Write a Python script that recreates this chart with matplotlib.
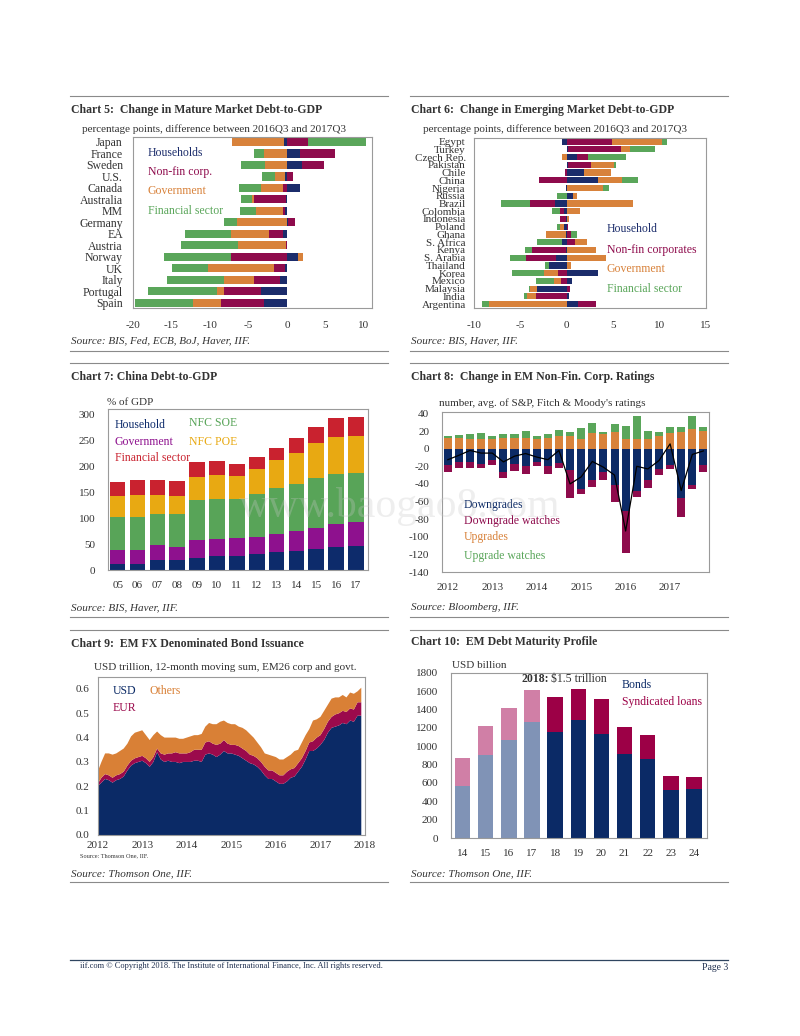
import numpy as np
import matplotlib.pyplot as plt

plt.rcParams['font.family'] = ['Liberation Serif', 'DejaVu Serif']
plt.rcParams['axes.unicode_minus'] = False

W, H = 800, 1036
TXT = '#333333'

# ---- Chart 5: mature markets, change in debt-to-GDP (pp) ----
mm_names = ['Japan', 'France', 'Sweden', 'U.S.', 'Canada', 'Australia', 'MM', 'Germany',
            'EA', 'Austria', 'Norway', 'UK', 'Italy', 'Portugal', 'Spain']
mm_household = [-0.35, 1.7, 2.0, -0.3, 1.7, -0.15, -0.3, 0.2, -0.5, 0.0, 1.4, -0.3, -0.9, -3.4, -3.0]
mm_nonfin = [2.7, 4.6, 2.75, 0.8, -0.5, -4.1, -0.2, 0.8, -1.8, -0.1, -7.3, -1.4, -3.4, -4.7, -5.5]
mm_govt = [-6.8, -3.0, -2.9, -1.2, -2.8, -0.3, -3.5, -6.5, -5.0, -6.2, 0.65, -8.5, -3.9, -1.0, -3.7]
mm_fin = [7.5, -1.3, -3.1, -1.7, -2.9, -1.4, -2.1, -1.6, -5.9, -7.5, -8.7, -4.7, -7.3, -8.9, -7.5]

# ---- Chart 6: emerging markets ----
em_names = ['Egypt', 'Turkey', 'Czech Rep.', 'Pakistan', 'Chile', 'China', 'Nigeria', 'Russia',
            'Brazil', 'Colombia', 'Indonesia', 'Poland', 'Ghana', 'S. Africa', 'Kenya',
            'S. Arabia', 'Thailand', 'Korea', 'Mexico', 'Malaysia', 'India', 'Argentina']
em_household = [-0.5, 0.1, 1.1, 0.1, 1.8, 3.4, -0.1, 0.65, -1.3, -0.3, -0.1, -0.25, -0.1, -0.55,
                -0.1, -1.2, -1.9, 3.4, 0.55, -3.2, 0.2, 1.2]
em_nonfin = [4.85, 5.7, 1.2, 2.55, -0.2, -3.0, 0.0, 0.0, -2.7, -0.45, -0.6, 0.15, 0.5, 0.85,
             -3.6, -3.2, -0.05, -1.0, -0.6, 0.35, -3.3, 2.0]
em_govt = [5.4, 1.0, -0.5, 2.4, 3.0, 2.5, 3.9, 0.45, 7.1, 1.4, 0.2, -0.5, -2.1, 1.3, 3.1, 4.2,
           0.45, -1.45, -0.8, -0.8, -0.95, -8.4]
em_fin = [0.55, 2.7, 4.1, 0.3, 0.0, 1.75, 0.6, -1.1, -3.1, -0.8, 0.0, -0.3, 0.65, -2.7, -0.8,
          -1.7, -0.45, -3.5, -1.9, -0.1, -0.4, -0.75]

# ---- Chart 7: China debt-to-GDP, % of GDP ----
cn_years = ['05', '06', '07', '08', '09', '10', '11', '12', '13', '14', '15', '16', '17']
cn_household = [11, 11, 19, 19, 24, 27, 27, 30, 34, 36, 40, 45, 47]
cn_govt = [27, 27, 30, 26, 34, 33, 34, 34, 36, 40, 41, 44, 46]
cn_soe = [64, 65, 59, 63, 77, 77, 76, 83, 87, 90, 97, 95, 94]
cn_poe = [41, 41, 37, 34, 44, 45, 44, 48, 54, 60, 66, 72, 71]
cn_fin = [27, 29, 29, 30, 28, 27, 24, 23, 24, 28, 32, 37, 37]

# ---- Chart 8: EM non-fin corp ratings, quarterly 2012Q1-2017Q4 ----
rt_years = ['2012', '2013', '2014', '2015', '2016', '2017']
rt_upgrades = [12, 12, 11, 11, 10.5, 12, 12, 12.5, 10.5, 12, 14, 14.5, 11, 18, 16.5, 19,
               10.5, 11.5, 10.5, 14.5, 18, 18.5, 22, 20]
rt_upg_watch = [2.5, 4, 5.5, 7, 4, 5, 5, 8, 3.5, 5, 7, 4, 12, 11, 3, 9, 15.5, 26, 10, 4.5,
                7, 6, 15, 5]
rt_downgrades = [-19, -15, -15, -17, -12.5, -27, -17, -20, -15, -20, -16.5, -24.5, -45.5, -35,
                 -27, -41, -71, -47.5, -35, -23, -18, -55.5, -41.5, -18]
rt_dng_watch = [-7.5, -6.5, -6.5, -4.5, -5.5, -6, -8, -8.5, -5, -8.5, -5.5, -31, -5.5, -8.5,
                -8, -19, -47, -7, -10, -6.5, -5, -22.5, -4.5, -9]
rt_net = [-12.5, -7.5, -2, -5, -5, -15, -8.5, -5.5, -9.5, -12.5, -2, -40, -32, -14.5, -21, -30,
          -93.5, -20, -23, -13.5, 5.5, -47.5, -6.5, -2.5]

# ---- Chart 9: EM FX bond issuance, USD trn, monthly Jan 2012 - Dec 2017 ----
fx_usd = [0.20, 0.215, 0.23, 0.225, 0.215, 0.225, 0.23, 0.24, 0.265, 0.285, 0.295, 0.30,
          0.305, 0.295, 0.28, 0.30, 0.34, 0.31, 0.30, 0.305, 0.30, 0.30, 0.295, 0.30,
          0.30, 0.30, 0.305, 0.305, 0.30, 0.33, 0.335, 0.33, 0.32, 0.33, 0.345, 0.335,
          0.335, 0.33, 0.325, 0.315, 0.305, 0.295, 0.29, 0.28, 0.265, 0.245, 0.23, 0.23,
          0.22, 0.21, 0.21, 0.22, 0.235, 0.24, 0.26, 0.28, 0.31, 0.345, 0.345, 0.355,
          0.37, 0.39, 0.42, 0.44, 0.445, 0.45, 0.46, 0.455, 0.47, 0.465, 0.49, 0.49]
fx_eur = [0.01, 0.02, 0.02, 0.02, 0.02, 0.02, 0.02, 0.02, 0.02, 0.02, 0.02, 0.02,
          0.02, 0.02, 0.02, 0.02, 0.015, 0.025, 0.03, 0.03, 0.035, 0.04, 0.04, 0.035,
          0.035, 0.04, 0.045, 0.045, 0.05, 0.05, 0.05, 0.045, 0.05, 0.045, 0.045, 0.04,
          0.035, 0.04, 0.04, 0.04, 0.04, 0.035, 0.035, 0.035, 0.035, 0.035, 0.035, 0.035,
          0.035, 0.035, 0.035, 0.04, 0.035, 0.035, 0.035, 0.035, 0.035, 0.035, 0.04, 0.045,
          0.04, 0.045, 0.045, 0.045, 0.05, 0.05, 0.05, 0.05, 0.05, 0.05, 0.055, 0.055]
fx_oth = [0.05, 0.065, 0.085, 0.09, 0.095, 0.09, 0.095, 0.095, 0.09, 0.10, 0.105, 0.105,
          0.105, 0.095, 0.09, 0.09, 0.07, 0.075, 0.07, 0.065, 0.065, 0.06, 0.06, 0.06,
          0.065, 0.065, 0.06, 0.06, 0.065, 0.065, 0.075, 0.08, 0.085, 0.09, 0.08, 0.085,
          0.085, 0.085, 0.08, 0.085, 0.085, 0.085, 0.075, 0.065, 0.06, 0.055, 0.065, 0.06,
          0.065, 0.065, 0.065, 0.06, 0.06, 0.07, 0.055, 0.065, 0.065, 0.055, 0.085, 0.075,
          0.075, 0.075, 0.07, 0.075, 0.07, 0.065, 0.065, 0.06, 0.065, 0.065, 0.045, 0.06]

# ---- Chart 10: EM debt maturity profile, USD bn ----
mat_years = ['14', '15', '16', '17', '18', '19', '20', '21', '22', '23', '24']
mat_bonds = [569, 899, 1065, 1264, 1149, 1290, 1134, 920, 862, 522, 533]
mat_loans = [301, 322, 348, 348, 387, 333, 377, 287, 265, 156, 134]

NAVY = '#1b2c6b'
MAROON = '#8e0b4c'
ORANGE = '#d8823b'
GREEN = '#5aa65a'

fig = plt.figure(figsize=(W / 100, H / 100), dpi=100)


def page_axes(l, t, r, b):
    ax = fig.add_axes([l / W, 1 - b / H, (r - l) / W, (b - t) / H])
    for s in ax.spines.values():
        s.set_color('#9a9a9a')
        s.set_linewidth(0.8)
    ax.tick_params(length=0, labelsize=8, colors=TXT)
    return ax


def ptext(x, y, s, **kw):
    kw.setdefault('va', 'center')
    kw.setdefault('color', TXT)
    fig.text(x / W, 1 - y / H, s, **kw)


def hrule(x0, x1, y, color='#8a8a8a', lw=0.8):
    fig.add_artist(plt.Line2D([x0 / W, x1 / W], [1 - y / H, 1 - y / H], color=color, lw=lw))


def diverging_barh(ax, series, colors, height):
    n = len(series[0])
    y = np.arange(n)
    pos = np.zeros(n)
    neg = np.zeros(n)
    for vals, c in zip(series, colors):
        vals = np.asarray(vals, dtype=float)
        left = np.where(vals >= 0, pos, neg)
        ax.barh(y, vals, left=left, height=height, color=c, linewidth=0)
        pos += np.clip(vals, 0, None)
        neg += np.clip(vals, None, 0)


# section rules
for y in [96, 351, 363, 617, 630, 882]:
    hrule(70, 388, y)
    hrule(410, 728, y)

# ---------------- Chart 5 ----------------
ptext(71, 110, 'Chart 5:  Change in Mature Market Debt-to-GDP', fontsize=8.5, fontweight='bold')
ptext(82, 129, 'percentage points, difference between 2016Q3 and 2017Q3', fontsize=8)
ax = page_axes(132.7, 136.7, 371.7, 308)
diverging_barh(ax, [mm_household, mm_nonfin, mm_govt, mm_fin], [NAVY, MAROON, ORANGE, GREEN], 0.72)
ax.set_xlim(-20, 11)
ax.set_ylim(14.45, -0.45)
ax.set_xticks(range(-20, 11, 5))
ax.set_yticks(range(len(mm_names)))
ax.set_yticklabels(mm_names, fontsize=8.5)
ax.tick_params(axis='y', pad=7)
ax.tick_params(axis='x', pad=9)
for lab, c, yf in [('Households', NAVY, 0.905), ('Non-fin corp.', MAROON, 0.794),
                   ('Government', ORANGE, 0.683), ('Financial sector', GREEN, 0.566)]:
    ax.text(0.064, yf, lab, transform=ax.transAxes, color=c, fontsize=8.5, va='center')
ptext(71, 341, 'Source: BIS, Fed, ECB, BoJ, Haver, IIF.', fontsize=8, style='italic')

# ---------------- Chart 6 ----------------
ptext(411, 110, 'Chart 6:  Change in Emerging Market Debt-to-GDP', fontsize=8.5, fontweight='bold')
ptext(423, 129, 'percentage points, difference between 2016Q3 and 2017Q3', fontsize=8)
ax = page_axes(474, 137.7, 706, 308)
diverging_barh(ax, [em_household, em_nonfin, em_govt, em_fin], [NAVY, MAROON, ORANGE, GREEN], 0.8)
ax.set_xlim(-10, 15)
ax.set_ylim(21.5, -0.5)
ax.set_xticks(range(-10, 16, 5))
ax.set_yticks(range(len(em_names)))
ax.set_yticklabels(em_names, fontsize=8)
ax.tick_params(axis='y', pad=6)
ax.tick_params(axis='x', pad=9)
for lab, c, yf in [('Household', NAVY, 0.464), ('Non-fin corporates', MAROON, 0.341),
                   ('Government', ORANGE, 0.229), ('Financial sector', GREEN, 0.112)]:
    ax.text(0.573, yf, lab, transform=ax.transAxes, color=c, fontsize=8.5, va='center')
ptext(411, 341, 'Source: BIS, Haver, IIF.', fontsize=8, style='italic')

# ---------------- Chart 7 ----------------
ptext(71, 377, 'Chart 7: China Debt-to-GDP', fontsize=8.5, fontweight='bold')
ptext(107, 403, '% of GDP', fontsize=8)
ax = page_axes(107.7, 409, 368, 570)
x = np.arange(len(cn_years))
bottom = np.zeros(len(x))
cn_colors = ['#0d2b6b', '#8e118e', '#58a458', '#e8a912', '#c9222f']
for vals, c in zip([cn_household, cn_govt, cn_soe, cn_poe, cn_fin], cn_colors):
    ax.bar(x, vals, bottom=bottom, width=0.79, color=c, linewidth=0)
    bottom += np.asarray(vals)
ax.set_xlim(-0.5, 12.6)
ax.set_ylim(0, 310)
ax.set_yticks(range(0, 301, 50))
ax.set_xticks(x)
ax.set_xticklabels(cn_years)
ax.tick_params(axis='y', pad=9)
ax.tick_params(axis='x', pad=8)
for lab, c, xf, yf in [('Household', cn_colors[0], 0.028, 0.90), ('Government', cn_colors[1], 0.028, 0.795),
                       ('Financial sector', cn_colors[4], 0.028, 0.696), ('NFC SOE', cn_colors[2], 0.312, 0.913),
                       ('NFC POE', cn_colors[3], 0.312, 0.795)]:
    ax.text(xf, yf, lab, transform=ax.transAxes, color=c, fontsize=8.5, va='center')
ptext(71, 608, 'Source: BIS, Haver, IIF.', fontsize=8, style='italic')

# ---------------- Chart 8 ----------------
ptext(411, 377, 'Chart 8:  Change in EM Non-Fin. Corp. Ratings', fontsize=8.5, fontweight='bold')
ptext(439, 403, "number, avg. of S&P, Fitch & Moody's ratings", fontsize=8)
ax = page_axes(441.7, 411.7, 709, 572)
q = np.arange(len(rt_upgrades))
ax.bar(q, rt_upgrades, width=0.72, color=ORANGE, linewidth=0)
ax.bar(q, rt_upg_watch, bottom=rt_upgrades, width=0.72, color=GREEN, linewidth=0)
ax.bar(q, rt_downgrades, width=0.72, color='#0c2a66', linewidth=0)
ax.bar(q, rt_dng_watch, bottom=rt_downgrades, width=0.72, color=MAROON, linewidth=0)
ax.plot(q, rt_net, color='black', lw=0.9)
ax.set_xlim(-0.55, 23.5)
ax.set_ylim(-140, 42)
ax.set_yticks(range(-140, 41, 20))
ax.set_xticks(q[::4])
ax.set_xticklabels(rt_years)
ax.tick_params(axis='y', pad=9)
ax.tick_params(axis='x', pad=8)
for lab, c, yf in [('Downgrades', '#0c2a66', 0.418), ('Downgrade watches', MAROON, 0.318),
                   ('Upgrades', ORANGE, 0.218), ('Upgrade watches', GREEN, 0.10)]:
    ax.text(0.083, yf, lab, transform=ax.transAxes, color=c, fontsize=8.5, va='center')
ptext(411, 607, 'Source: Bloomberg, IIF.', fontsize=8, style='italic')

# ---------------- Chart 9 ----------------
ptext(71, 644, 'Chart 9:  EM FX Denominated Bond Issuance', fontsize=8.5, fontweight='bold')
ptext(94, 668, 'USD trillion, 12-month moving sum, EM26 corp and govt.', fontsize=8)
ax = page_axes(97.7, 676.7, 365, 835)
t = 2012 + np.arange(len(fx_usd)) / 12
ax.stackplot(t, fx_usd, fx_eur, fx_oth, colors=['#0b2a66', '#9b0a4c', '#d98036'], linewidth=0)
ax.set_xlim(2012, 2018)
ax.set_ylim(0, 0.65)
ax.set_yticks(np.arange(0, 0.61, 0.1))
ax.set_yticklabels([f'{v:.1f}' for v in np.arange(0, 0.61, 0.1)])
ax.set_xticks(range(2012, 2019))
ax.tick_params(axis='y', pad=6)
ax.tick_params(axis='x', pad=4)
ax.text(0.057, 0.91, 'USD', transform=ax.transAxes, color='#0b2a66', fontsize=8.5, va='center')
ax.text(0.192, 0.91, 'Others', transform=ax.transAxes, color='#d98036', fontsize=8.5, va='center')
ax.text(0.057, 0.80, 'EUR', transform=ax.transAxes, color='#9b0a4c', fontsize=8.5, va='center')
ptext(80, 856, 'Source: Thomson One, IIF.', fontsize=4.5)
ptext(71, 874, 'Source: Thomson One, IIF.', fontsize=8, style='italic')

# ---------------- Chart 10 ----------------
ptext(411, 642, 'Chart 10:  EM Debt Maturity Profile', fontsize=8.5, fontweight='bold')
ptext(452, 665, 'USD billion', fontsize=8)
ax = page_axes(451, 672.7, 706.7, 838)
xm = np.arange(len(mat_years))
hist = xm < 4
bond_c = np.where(hist, '#8093b6', '#0b2a66')
loan_c = np.where(hist, '#d07fa6', '#9c0046')
ax.bar(xm, mat_bonds, width=0.67, color=bond_c, linewidth=0)
ax.bar(xm, mat_loans, bottom=mat_bonds, width=0.67, color=loan_c, linewidth=0)
ax.set_xlim(-0.5, 10.55)
ax.set_ylim(0, 1800)
ax.set_yticks(range(0, 1801, 200))
ax.set_xticks(xm)
ax.set_xticklabels(mat_years)
ax.tick_params(axis='y', pad=9)
ax.tick_params(axis='x', pad=8)
ptext(549, 679, '2018:', fontsize=8.5, fontweight='bold', ha='right')
ptext(551, 679, '$1.5 trillion', fontsize=8.5, ha='left')
ax.text(0.669, 0.926, 'Bonds', transform=ax.transAxes, color='#0b2a66', fontsize=8.5, va='center')
ax.text(0.669, 0.823, 'Syndicated loans', transform=ax.transAxes, color='#9c0046', fontsize=8.5, va='center')
ptext(411, 874, 'Source: Thomson One, IIF.', fontsize=8, style='italic')

# faint watermark across the middle of the page
ptext(400, 507, 'www.baogao8.com', fontsize=30, color='#c8c8c8', alpha=0.3, ha='center')

# footer
hrule(70, 728, 960, color='#2f4560', lw=0.9)
ptext(80, 966, 'iif.com \u00a9 Copyright 2018. The Institute of International Finance, Inc. All rights reserved.',
      fontsize=6, color='#1f2f4f')
ptext(728, 967, 'Page 3', fontsize=7, color='#1f2f4f', ha='right')

fig.savefig('out.png', dpi=100)
